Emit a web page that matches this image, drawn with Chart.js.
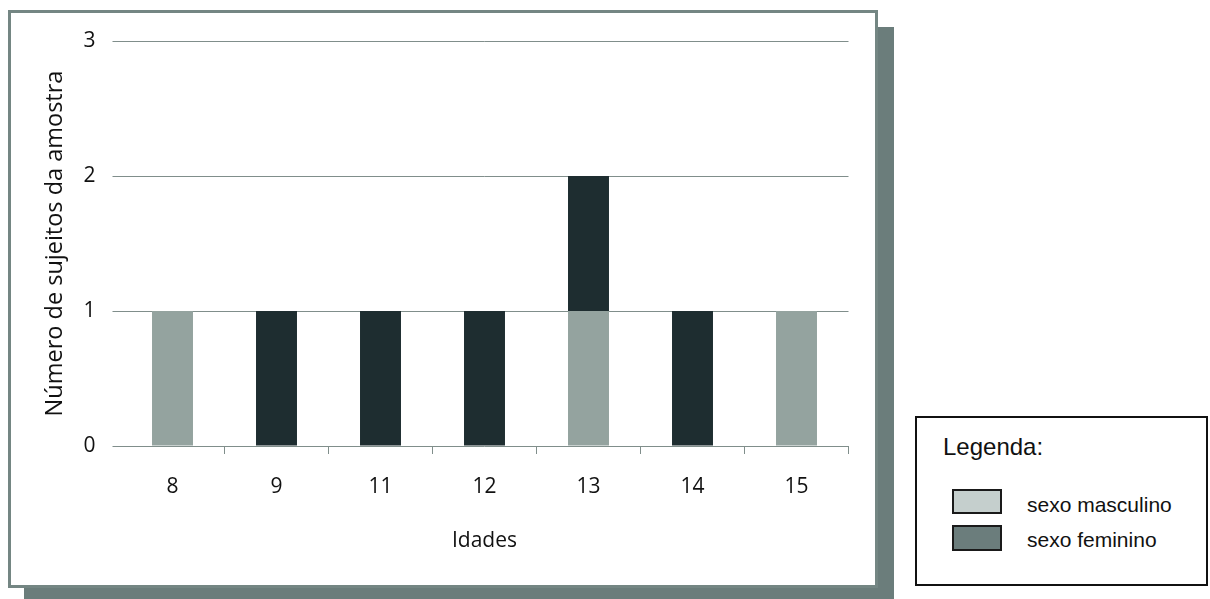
<!DOCTYPE html>
<html>
<head>
<meta charset="utf-8">
<title>Idades</title>
<script src="https://cdn.jsdelivr.net/npm/chart.js@4.4.0/dist/chart.umd.min.js"></script>
<style>
	html, body { margin: 0; padding: 0; background: #fff; }
	body { width: 1210px; height: 599px; position: relative; overflow: hidden; }
	.frame {
		position: absolute; left: 8px; top: 10px; width: 870px; height: 578px;
		box-sizing: border-box; border: 3px solid #748683; background: #fff;
		box-shadow: 16px 17px 0 0 #6b7d7b;
	}
	#idades-bars { position: absolute; left: 0; top: 0; }
	.legenda {
		position: absolute; left: 915px; top: 416px; width: 293px; height: 170px;
		box-sizing: border-box; border: 2px solid #111; background: #fff;
		font-family: "Liberation Sans", Arial, sans-serif; color: #111;
	}
	.legenda .titulo { position: absolute; left: 26px; top: 15px; font-size: 24px; line-height: normal; }
	.legenda .box { position: absolute; left: 35px; width: 50px; box-sizing: border-box; border: 2px solid #1a1a1a; }
	.legenda .txt { position: absolute; left: 110px; font-size: 21px; line-height: normal; }
</style>
</head>
<body>
<div class="frame"></div>
<canvas id="idades-bars" width="1210" height="599"></canvas>
<div class="legenda">
	<div class="titulo">Legenda:</div>
	<div class="box" style="top:71px;height:25px;background:#c5cfcd"></div>
	<div class="txt" style="top:75px">sexo masculino</div>
	<div class="box" style="top:107px;height:26px;background:#6b7d7c"></div>
	<div class="txt" style="top:110px">sexo feminino</div>
</div>
<script>
//
// Data
//

var idades = ['8', '9', '11', '12', '13', '14', '15'];
var masculino = [1, 0, 0, 0, 1, 0, 1];
var feminino = [0, 1, 1, 1, 1, 1, 0];
var yTicks = [0, 1, 2, 3];


//
// Bars chart
//

var IdadesBars = (function() {

	//
	// Variables
	//

	var $chart = document.getElementById('idades-bars');
	var gridColor = '#808e8b';
	var tickFont = { family: '"Open Sans", sans-serif', size: 21 };


	//
	// Methods
	//

	// Init chart
	function initChart($chart) {

		// Create chart
		var idadesChart = new Chart($chart, {
			type: 'bar',
			data: {
				labels: idades,
				datasets: [{
					label: 'sexo masculino',
					data: masculino,
					backgroundColor: '#94a39f'
				}, {
					label: 'sexo feminino',
					data: feminino,
					backgroundColor: '#1e2d30'
				}]
			},
			options: {
				responsive: false,
				animation: false,
				layout: {
					padding: { left: 0, top: 41, right: 361.5, bottom: 45.4 }
				},
				plugins: {
					legend: { display: false },
					tooltip: { enabled: false }
				},
				datasets: {
					bar: { categoryPercentage: 1, barPercentage: 0.394 }
				},
				scales: {
					x: {
						stacked: true,
						grid: {
							offset: true,
							drawOnChartArea: false,
							drawTicks: true,
							tickLength: 8,
							// no tick mark at the left end
							color: function(ctx) {
								return ctx.index === 0 ? 'rgba(0,0,0,0)' : gridColor;
							}
						},
						border: { display: false },
						ticks: { color: '#111', font: tickFont, padding: 20 },
						title: {
							display: true,
							text: 'Idades',
							color: '#111',
							font: tickFont,
							padding: { top: 0, bottom: 0 }
						},
						afterFit: function(scale) { scale.height = 107.6; }
					},
					y: {
						stacked: true,
						min: 0,
						max: 3,
						afterBuildTicks: function(scale) {
							scale.ticks = yTicks.map(function(v) { return { value: v }; });
						},
						grid: {
							color: gridColor,
							drawTicks: true,
							tickLength: 8
						},
						border: { display: false },
						ticks: { color: '#111', font: tickFont, padding: 17 },
						title: {
							display: true,
							text: 'Número de sujeitos da amostra',
							color: '#111',
							font: { family: '"Open Sans", sans-serif', size: 23.5 },
							padding: { top: 41, bottom: 0 }
						},
						afterFit: function(scale) { scale.width = 120.5; }
					}
				}
			}
		});

		// Save on element
		$chart.chart = idadesChart;
	}


	// Init chart
	if ($chart) {
		initChart($chart);
	}

})();
</script>
</body>
</html>
